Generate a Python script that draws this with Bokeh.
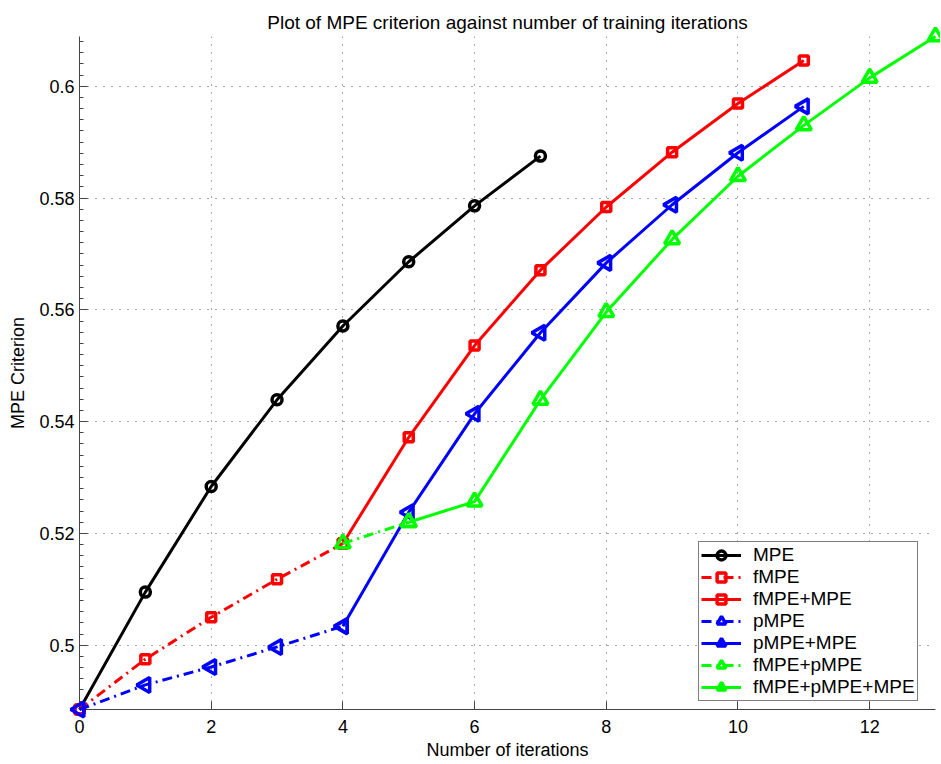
import math
from bokeh.plotting import figure
from bokeh.models import FixedTicker, Legend, LegendItem
from bokeh.embed import file_html
from bokeh.resources import INLINE

# ---- data ----
x_mpe = [0, 1, 2, 3, 4, 5, 6, 7]
y_mpe = [0.4885, 0.5095, 0.5284, 0.5439, 0.5571, 0.5686, 0.5786, 0.5875]

x_fmpe = [0, 1, 2, 3, 4]
y_fmpe = [0.4885, 0.4975, 0.5050, 0.5118, 0.5182]

x_fmpe_mpe = [4, 5, 6, 7, 8, 9, 10, 11]
y_fmpe_mpe = [0.5182, 0.5372, 0.5536, 0.5671, 0.5784, 0.5882, 0.5969, 0.6046]

x_pmpe = [0, 1, 2, 3, 4]
y_pmpe = [0.4885, 0.4929, 0.4961, 0.4997, 0.5034]

x_pmpe_mpe = [4, 5, 6, 7, 8, 9, 10, 11]
y_pmpe_mpe = [0.5034, 0.5238, 0.5414, 0.5559, 0.5684, 0.5788, 0.5881, 0.5964]

x_fmpe_pmpe = [4, 5]
y_fmpe_pmpe = [0.5182, 0.5220]

x_fmpe_pmpe_mpe = [5, 6, 7, 8, 9, 10, 11, 12, 13]
y_fmpe_pmpe_mpe = [0.5220, 0.5257, 0.5439, 0.5596, 0.5726, 0.5839, 0.5930, 0.6015, 0.6089]

x_ticks = [0, 2, 4, 6, 8, 10, 12]
x_tick_labels = ["0", "2", "4", "6", "8", "10", "12"]
y_ticks = [0.5, 0.52, 0.54, 0.56, 0.58, 0.6]
y_tick_labels = ["0.5", "0.52", "0.54", "0.56", "0.58", "0.6"]

title_text = "Plot of MPE criterion against number of training iterations"
x_label = "Number of iterations"
y_label = "MPE Criterion"

FONT = "Liberation Sans"

p = figure(width=940, height=764, x_range=(0, 13), y_range=(0.4885, 0.6089),
           output_backend="svg", toolbar_location=None,
           min_border_left=79, min_border_right=5, min_border_top=36, min_border_bottom=55,
           title=title_text)
p.outline_line_color = None
p.background_fill_color = "white"
p.border_fill_color = "white"

p.title.text_font = FONT
p.title.text_font_size = "19px"
p.title.text_font_style = "normal"
p.title.align = "center"
p.title.standoff = 7
p.title.text_color = "black"

minor = [round(0.49 + 0.002 * i, 4) for i in range(60)]
p.xaxis.ticker = FixedTicker(ticks=x_ticks)
p.yaxis.ticker = FixedTicker(ticks=y_ticks, minor_ticks=minor)
p.xaxis.major_label_overrides = {t: l for t, l in zip(x_ticks, x_tick_labels)}
p.yaxis.major_label_overrides = {t: l for t, l in zip(y_ticks, y_tick_labels)}
p.xaxis.axis_label = x_label
p.yaxis.axis_label = y_label

for ax in (p.xaxis, p.yaxis):
    ax.axis_line_color = "#444444"
    ax.axis_line_width = 1
    ax.major_tick_line_color = "#444444"
    ax.minor_tick_line_color = "#444444"
    ax.major_tick_in = 8
    ax.major_tick_out = 0
    ax.minor_tick_in = 4
    ax.minor_tick_out = 0
    ax.major_label_text_font = FONT
    ax.major_label_text_font_size = "18px"
    ax.major_label_text_color = "black"
    ax.axis_label_text_font = FONT
    ax.axis_label_text_font_size = "18px"
    ax.axis_label_text_font_style = "normal"
    ax.axis_label_text_color = "black"

p.xaxis.major_label_standoff = 10
p.xaxis.axis_label_standoff = 4
p.yaxis.major_label_standoff = 5
p.yaxis.axis_label_standoff = 8

for g in (p.xgrid, p.ygrid):
    g.grid_line_color = "black"
    g.grid_line_alpha = 0.7
    g.grid_line_width = 1
    g.grid_line_dash = "1 7"

DASHDOT = "10 5 2 5"
series = [
    ("MPE", x_mpe, y_mpe, "black", "solid", "circle", 10, 0.0),
    ("fMPE", x_fmpe, y_fmpe, "#ff0000", DASHDOT, "square", 9, 0.0),
    ("fMPE+MPE", x_fmpe_mpe, y_fmpe_mpe, "#ff0000", "solid", "square", 9, 0.0),
    ("pMPE", x_pmpe, y_pmpe, "#0000ff", DASHDOT, "triangle", 15, math.pi / 2),
    ("pMPE+MPE", x_pmpe_mpe, y_pmpe_mpe, "#0000ff", "solid", "triangle", 15, math.pi / 2),
    ("fMPE+pMPE", x_fmpe_pmpe, y_fmpe_pmpe, "#00ff00", DASHDOT, "triangle", 15, 0.0),
    ("fMPE+pMPE+MPE", x_fmpe_pmpe_mpe, y_fmpe_pmpe_mpe, "#00ff00", "solid", "triangle", 15, 0.0),
]

items = []
for name, xs, ys, col, dash, mk, sz, ang in series:
    ln = p.line(xs, ys, line_color=col, line_width=3, line_dash=dash, level="overlay")
    sc = p.scatter(xs, ys, marker=mk, size=sz, angle=ang, line_color=col,
                   line_width=3.5, fill_color=None, level="overlay")
    items.append(LegendItem(label=name, renderers=[ln, sc]))

legend = Legend(items=items, location=(619, 8))
legend.border_line_color = "black"
legend.border_line_width = 1
legend.background_fill_color = "white"
legend.background_fill_alpha = 1
legend.label_text_font = FONT
legend.label_text_font_size = "19px"
legend.label_text_color = "black"
legend.padding = 2
legend.spacing = 0
legend.margin = 0
legend.label_height = 22
legend.glyph_height = 22
legend.glyph_width = 40
legend.label_standoff = 12
legend.label_width = 20
p.add_layout(legend)

open("out.html", "w").write(file_html(p, INLINE))
